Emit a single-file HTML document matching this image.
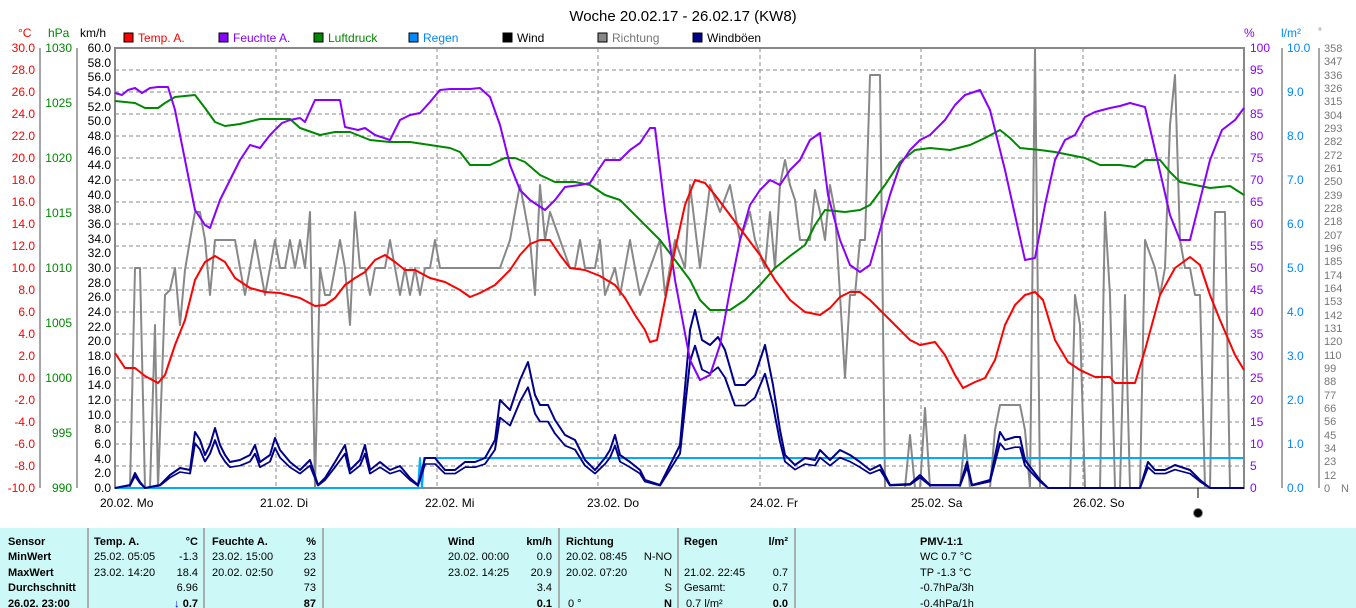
<!DOCTYPE html>
<html><head><meta charset="utf-8"><style>
body{margin:0;background:#fff;width:1356px;height:608px;overflow:hidden}
svg{display:block;font-family:"Liberation Sans",sans-serif}
</style></head><body>
<svg width="1356" height="608" viewBox="0 0 1356 608" xmlns="http://www.w3.org/2000/svg">
<rect width="1356" height="608" fill="#fff"/>
<text x="683" y="21" font-size="15" text-anchor="middle" fill="#000">Woche 20.02.17 - 26.02.17 (KW8)</text>
<!-- legend -->
<g font-size="12">
<rect x="124" y="33" width="9" height="9" fill="#f00" stroke="#000"/><text x="138" y="42" fill="#f00">Temp. A.</text>
<rect x="219" y="33" width="9" height="9" fill="#80f" stroke="#000"/><text x="233" y="42" fill="#80f">Feuchte A.</text>
<rect x="314" y="33" width="9" height="9" fill="#080" stroke="#000"/><text x="328" y="42" fill="#080">Luftdruck</text>
<rect x="409" y="33" width="9" height="9" fill="#08f" stroke="#000"/><text x="423" y="42" fill="#08f">Regen</text>
<rect x="503" y="33" width="9" height="9" fill="#000" stroke="#000"/><text x="517" y="42" fill="#000">Wind</text>
<rect x="598" y="33" width="9" height="9" fill="#888" stroke="#000"/><text x="612" y="42" fill="#777">Richtung</text>
<rect x="693" y="33" width="9" height="9" fill="#008" stroke="#000"/><text x="707" y="42" fill="#000">Windböen</text>
</g>
<!-- unit headers -->
<g font-size="12">
<text x="18" y="37" fill="#f00">°C</text><text x="48" y="37" fill="#080">hPa</text><text x="80" y="37" fill="#000">km/h</text>
<text x="1244" y="37" fill="#80f">%</text><text x="1281" y="37" fill="#08f">l/m²</text><text x="1318" y="35" fill="#777" font-size="10">°</text>
</g>
<!-- grid -->
<g stroke="#888" stroke-dasharray="4,3" stroke-width="1">
<line x1="115" y1="70" x2="1244" y2="70"/><line x1="115" y1="92" x2="1244" y2="92"/><line x1="115" y1="114" x2="1244" y2="114"/><line x1="115" y1="136" x2="1244" y2="136"/><line x1="115" y1="158" x2="1244" y2="158"/><line x1="115" y1="180" x2="1244" y2="180"/><line x1="115" y1="202" x2="1244" y2="202"/><line x1="115" y1="224" x2="1244" y2="224"/><line x1="115" y1="246" x2="1244" y2="246"/><line x1="115" y1="268" x2="1244" y2="268"/><line x1="115" y1="290" x2="1244" y2="290"/><line x1="115" y1="312" x2="1244" y2="312"/><line x1="115" y1="334" x2="1244" y2="334"/><line x1="115" y1="356" x2="1244" y2="356"/><line x1="115" y1="378" x2="1244" y2="378"/><line x1="115" y1="400" x2="1244" y2="400"/><line x1="115" y1="422" x2="1244" y2="422"/><line x1="115" y1="444" x2="1244" y2="444"/><line x1="115" y1="466" x2="1244" y2="466"/>
<line x1="276" y1="48" x2="276" y2="488"/><line x1="437" y1="48" x2="437" y2="488"/><line x1="598" y1="48" x2="598" y2="488"/><line x1="760" y1="48" x2="760" y2="488"/><line x1="921" y1="48" x2="921" y2="488"/><line x1="1083" y1="48" x2="1083" y2="488"/>
</g>
<rect x="115" y="48" width="1129" height="440" fill="none" stroke="#888" stroke-width="2"/>
<!-- axis lines -->
<g stroke="#888" stroke-width="1.5">
<line x1="40" y1="48" x2="40" y2="488"/><line x1="77" y1="48" x2="77" y2="488"/>
<line x1="1282" y1="48" x2="1282" y2="488"/><line x1="1319" y1="48" x2="1319" y2="488"/>
</g>
<g font-size="12" text-anchor="end" fill="#f00">
<text x="35" y="52">30.0</text><text x="35" y="74">28.0</text><text x="35" y="96">26.0</text><text x="35" y="118">24.0</text><text x="35" y="140">22.0</text><text x="35" y="162">20.0</text><text x="35" y="184">18.0</text><text x="35" y="206">16.0</text><text x="35" y="228">14.0</text><text x="35" y="250">12.0</text><text x="35" y="272">10.0</text><text x="35" y="294">8.0</text><text x="35" y="316">6.0</text><text x="35" y="338">4.0</text><text x="35" y="360">2.0</text><text x="35" y="382">0.0</text><text x="35" y="404">-2.0</text><text x="35" y="426">-4.0</text><text x="35" y="448">-6.0</text><text x="35" y="470">-8.0</text><text x="35" y="492">-10.0</text>
</g>
<g font-size="12" text-anchor="end" fill="#080">
<text x="72" y="52">1030</text><text x="72" y="107">1025</text><text x="72" y="162">1020</text><text x="72" y="217">1015</text><text x="72" y="272">1010</text><text x="72" y="327">1005</text><text x="72" y="382">1000</text><text x="72" y="437">995</text><text x="72" y="492">990</text>
</g>
<g font-size="12" text-anchor="end" fill="#000">
<text x="111" y="52">60.0</text><text x="111" y="67">58.0</text><text x="111" y="81">56.0</text><text x="111" y="96">54.0</text><text x="111" y="111">52.0</text><text x="111" y="125">50.0</text><text x="111" y="140">48.0</text><text x="111" y="155">46.0</text><text x="111" y="169">44.0</text><text x="111" y="184">42.0</text><text x="111" y="199">40.0</text><text x="111" y="213">38.0</text><text x="111" y="228">36.0</text><text x="111" y="243">34.0</text><text x="111" y="257">32.0</text><text x="111" y="272">30.0</text><text x="111" y="287">28.0</text><text x="111" y="301">26.0</text><text x="111" y="316">24.0</text><text x="111" y="331">22.0</text><text x="111" y="345">20.0</text><text x="111" y="360">18.0</text><text x="111" y="375">16.0</text><text x="111" y="389">14.0</text><text x="111" y="404">12.0</text><text x="111" y="419">10.0</text><text x="111" y="433">8.0</text><text x="111" y="448">6.0</text><text x="111" y="463">4.0</text><text x="111" y="477">2.0</text><text x="111" y="492">0.0</text>
</g>
<g font-size="12" fill="#80f">
<text x="1250" y="52">100</text><text x="1250" y="74">95</text><text x="1250" y="96">90</text><text x="1250" y="118">85</text><text x="1250" y="140">80</text><text x="1250" y="162">75</text><text x="1250" y="184">70</text><text x="1250" y="206">65</text><text x="1250" y="228">60</text><text x="1250" y="250">55</text><text x="1250" y="272">50</text><text x="1250" y="294">45</text><text x="1250" y="316">40</text><text x="1250" y="338">35</text><text x="1250" y="360">30</text><text x="1250" y="382">25</text><text x="1250" y="404">20</text><text x="1250" y="426">15</text><text x="1250" y="448">10</text><text x="1250" y="470">5</text><text x="1250" y="492">0</text>
</g>
<g font-size="12" fill="#08f">
<text x="1287" y="52">10.0</text><text x="1287" y="96">9.0</text><text x="1287" y="140">8.0</text><text x="1287" y="184">7.0</text><text x="1287" y="228">6.0</text><text x="1287" y="272">5.0</text><text x="1287" y="316">4.0</text><text x="1287" y="360">3.0</text><text x="1287" y="404">2.0</text><text x="1287" y="448">1.0</text><text x="1287" y="492">0.0</text>
</g>
<g font-size="11" fill="#777">
<text x="1324" y="52">358</text><text x="1324" y="65">347</text><text x="1324" y="79">336</text><text x="1324" y="92">326</text><text x="1324" y="105">315</text><text x="1324" y="119">304</text><text x="1324" y="132">293</text><text x="1324" y="145">282</text><text x="1324" y="159">272</text><text x="1324" y="172">261</text><text x="1324" y="185">250</text><text x="1324" y="199">239</text><text x="1324" y="212">228</text><text x="1324" y="225">218</text><text x="1324" y="239">207</text><text x="1324" y="252">196</text><text x="1324" y="265">185</text><text x="1324" y="279">174</text><text x="1324" y="292">164</text><text x="1324" y="305">153</text><text x="1324" y="319">142</text><text x="1324" y="332">131</text><text x="1324" y="345">120</text><text x="1324" y="359">110</text><text x="1324" y="372">99</text><text x="1324" y="385">88</text><text x="1324" y="399">77</text><text x="1324" y="412">66</text><text x="1324" y="425">56</text><text x="1324" y="439">45</text><text x="1324" y="452">34</text><text x="1324" y="465">23</text><text x="1324" y="479">12</text><text x="1324" y="492">0</text>
<text x="1341" y="492">N</text>
</g>
<!-- day labels -->
<g font-size="12" fill="#000">
<text x="100" y="507">20.02.  Mo</text><text x="260" y="507">21.02.  Di</text><text x="425" y="507">22.02.  Mi</text><text x="587" y="507">23.02.  Do</text><text x="750" y="507">24.02.  Fr</text><text x="911" y="507">25.02.  Sa</text><text x="1073" y="507">26.02.  So</text>
</g>
<line x1="1198" y1="488" x2="1198" y2="498" stroke="#000"/>
<circle cx="1198" cy="513" r="4.5" fill="#000" stroke="#888"/>
<!-- series -->
<g fill="none" stroke-width="2" stroke-linejoin="round">
<polyline stroke="#888" points="115,488 130,488 135,268 140,268 145,488 150,488 155,325 158,488 165,295 170,290 175,268 180,325 185,270 190,240 195,212 200,212 205,240 210,295 215,240 235,240 240,268 245,295 250,268 255,240 260,268 265,295 270,268 275,240 280,268 285,268 290,240 295,268 300,240 305,268 310,212 315,488 320,268 325,295 330,295 335,268 340,240 345,268 350,325 355,212 360,268 365,268 370,295 375,268 385,268 390,240 395,268 400,295 405,268 410,295 415,268 420,295 425,268 430,268 435,240 440,268 500,268 510,240 515,212 520,185 525,212 530,240 535,295 540,185 545,240 550,212 560,240 570,268 575,268 580,240 585,268 595,268 600,240 605,295 615,268 620,295 625,268 630,240 635,268 640,295 650,268 660,240 665,295 675,240 685,268 690,185 700,268 710,185 720,212 730,185 740,240 750,212 755,240 765,268 770,212 775,268 780,185 785,160 790,185 795,200 800,240 810,240 815,190 820,212 825,240 830,185 835,212 840,295 845,378 850,295 855,295 860,240 865,240 870,75 880,75 885,488 905,488 910,435 915,488 920,488 925,408 930,488 960,488 965,435 970,488 990,488 995,430 1000,405 1020,405 1025,430 1030,488 1035,48 1040,488 1070,488 1075,295 1080,325 1085,488 1100,488 1105,212 1110,295 1115,488 1120,488 1125,295 1130,488 1140,488 1145,240 1155,268 1160,295 1165,268 1170,125 1175,75 1180,240 1185,268 1190,268 1195,295 1200,295 1205,488 1210,488 1215,212 1220,212 1225,212 1230,488 1244,488"/>
<polyline stroke="#0af" stroke="#1e90ff" points="115,488 418,488 420,458 422,488 424,458 1244,458"/>
<polyline id="g" stroke="#00008b" points="115,488 130,485 135,473 140,482 145,488 160,485 170,475 180,468 190,470 195,432 200,440 205,455 210,445 215,428 220,445 225,455 230,462 240,460 250,455 255,445 260,462 270,455 275,438 280,450 290,462 300,470 310,460 318,485 325,478 335,462 345,445 350,470 360,460 365,445 370,470 380,462 390,470 400,466 410,478 418,485 425,458 435,458 445,470 455,470 465,462 475,462 485,458 495,440 500,400 510,410 520,380 528,362 535,395 540,405 548,405 555,420 565,435 575,440 585,460 595,470 605,458 610,450 615,435 620,455 630,462 640,470 645,480 660,485 670,465 680,445 690,330 695,310 702,340 710,345 718,337 725,350 735,385 745,385 755,375 765,345 773,385 780,430 785,455 795,465 805,458 815,460 820,450 830,460 840,450 850,455 860,462 870,470 880,465 890,485 910,484 920,475 930,485 960,485 967,462 972,485 990,480 1000,432 1005,440 1015,437 1020,437 1025,460 1040,480 1048,488 1140,488 1148,462 1155,470 1165,470 1175,465 1190,470 1200,480 1210,488 1244,488"/>
<use href="#g" stroke="#000" transform="translate(0,97.6) scale(1,0.8)" style="stroke:#000"/>
<polyline stroke="#080" points="115,101 125,102 135,103 145,108 158,108 165,103 175,97 185,96 195,95 205,108 215,122 225,126 240,124 260,119 290,119 300,128 320,135 335,132 350,132 370,140 390,142 410,142 430,145 450,148 460,152 470,165 490,165 505,158 515,158 525,162 540,175 555,182 575,182 590,185 605,195 620,200 630,210 645,225 660,240 675,260 690,280 700,300 710,310 730,310 745,300 760,285 775,268 790,256 805,245 815,225 825,210 845,212 860,210 870,205 885,185 900,162 915,150 930,148 950,150 970,145 985,138 1000,130 1010,138 1020,148 1040,150 1055,152 1070,155 1085,158 1100,165 1120,165 1135,167 1145,160 1160,160 1170,172 1180,182 1195,185 1210,188 1230,186 1244,195"/>
<polyline stroke="#80f" points="115,93 122,95 128,90 135,88 142,93 150,88 158,87 168,87 175,110 185,160 195,210 205,225 210,228 220,200 230,180 240,160 250,145 260,148 270,135 282,123 290,120 300,118 305,122 315,100 340,100 345,127 358,130 365,128 375,135 390,140 400,120 410,115 420,113 430,102 440,90 450,89 470,89 480,88 490,97 500,125 510,165 520,190 530,200 545,210 555,200 565,187 580,185 590,183 595,175 605,160 620,160 630,150 640,143 650,128 655,128 665,210 675,280 690,360 700,380 710,375 720,345 730,290 740,240 750,205 760,190 770,180 780,185 790,170 800,160 810,140 820,133 828,195 840,240 850,265 860,272 870,265 880,230 890,195 900,165 910,150 920,140 930,135 945,120 955,105 965,95 980,90 990,110 1005,170 1015,215 1025,260 1035,258 1045,205 1055,160 1065,140 1075,135 1085,117 1095,112 1110,108 1120,106 1130,103 1145,107 1155,150 1170,215 1180,240 1190,240 1200,200 1210,160 1222,130 1235,120 1244,108"/>
<polyline stroke="#f00" points="115,353 125,368 135,368 145,376 158,383 165,375 175,345 185,320 195,280 205,262 215,256 225,262 235,278 250,288 265,292 280,293 300,298 315,306 325,305 335,298 345,285 355,278 365,272 375,260 385,255 395,262 405,270 415,270 430,278 445,282 460,290 470,297 480,293 495,285 510,270 520,255 530,244 540,240 550,240 560,255 570,268 585,270 600,276 615,285 625,298 635,315 645,330 650,342 657,340 665,300 675,250 685,205 695,180 705,183 715,195 730,215 745,235 760,255 775,280 790,300 805,312 820,315 830,308 840,297 850,292 860,292 870,300 880,310 890,320 900,330 910,340 920,345 935,342 945,355 955,375 963,388 975,382 985,378 995,360 1005,325 1015,305 1025,295 1035,292 1043,300 1055,340 1068,362 1080,370 1095,377 1110,377 1115,383 1135,383 1145,350 1160,295 1175,268 1190,257 1200,265 1210,295 1220,320 1235,355 1244,370"/>
</g>
<!-- table -->
<rect x="0" y="528" width="1356" height="80" fill="#ccf8f8"/>
<g stroke="#999" stroke-width="1.5">
<line x1="88" y1="528" x2="88" y2="608"/><line x1="204" y1="528" x2="204" y2="608"/><line x1="323" y1="528" x2="323" y2="608"/><line x1="559" y1="528" x2="559" y2="608"/><line x1="678" y1="528" x2="678" y2="608"/><line x1="795" y1="528" x2="795" y2="608"/>
</g>
<g font-size="11" fill="#000">
<g font-weight="bold">
<text x="8" y="545">Sensor</text><text x="8" y="560">MinWert</text><text x="8" y="576">MaxWert</text><text x="8" y="591">Durchschnitt</text><text x="8" y="607">26.02. 23:00</text>
<text x="94" y="545">Temp. A.</text><text x="198" y="545" text-anchor="end">°C</text>
<text x="212" y="545">Feuchte A.</text><text x="316" y="545" text-anchor="end">%</text>
<text x="448" y="545">Wind</text><text x="552" y="545" text-anchor="end">km/h</text>
<text x="566" y="545">Richtung</text>
<text x="684" y="545">Regen</text><text x="788" y="545" text-anchor="end">l/m²</text>
<text x="920" y="545">PMV-1:1</text>
<text x="198" y="607" text-anchor="end">0.7</text><text x="316" y="607" text-anchor="end">87</text><text x="552" y="607" text-anchor="end">0.1</text><text x="672" y="607" text-anchor="end">N</text><text x="788" y="607" text-anchor="end">0.0</text>
</g>
<text x="94" y="560">25.02.  05:05</text><text x="198" y="560" text-anchor="end">-1.3</text>
<text x="94" y="576">23.02.  14:20</text><text x="198" y="576" text-anchor="end">18.4</text>
<text x="198" y="591" text-anchor="end">6.96</text>
<text x="174" y="607" fill="#00f">↓</text>
<text x="212" y="560">23.02.  15:00</text><text x="316" y="560" text-anchor="end">23</text>
<text x="212" y="576">20.02.  02:50</text><text x="316" y="576" text-anchor="end">92</text>
<text x="316" y="591" text-anchor="end">73</text>
<text x="448" y="560">20.02.  00:00</text><text x="552" y="560" text-anchor="end">0.0</text>
<text x="448" y="576">23.02.  14:25</text><text x="552" y="576" text-anchor="end">20.9</text>
<text x="552" y="591" text-anchor="end">3.4</text>
<text x="566" y="560">20.02.  08:45</text><text x="672" y="560" text-anchor="end">N-NO</text>
<text x="566" y="576">20.02.  07:20</text><text x="672" y="576" text-anchor="end">N</text>
<text x="672" y="591" text-anchor="end">S</text><text x="568" y="607">0 °</text>
<text x="684" y="576">21.02.  22:45</text><text x="788" y="576" text-anchor="end">0.7</text>
<text x="684" y="591">Gesamt:</text><text x="788" y="591" text-anchor="end">0.7</text>
<text x="686" y="607">0.7 l/m²</text>
<text x="920" y="560">WC 0.7 °C</text><text x="920" y="576">TP -1.3 °C</text><text x="920" y="591">-0.7hPa/3h</text><text x="920" y="607">-0.4hPa/1h</text>
</g>
</svg>
</body></html>
